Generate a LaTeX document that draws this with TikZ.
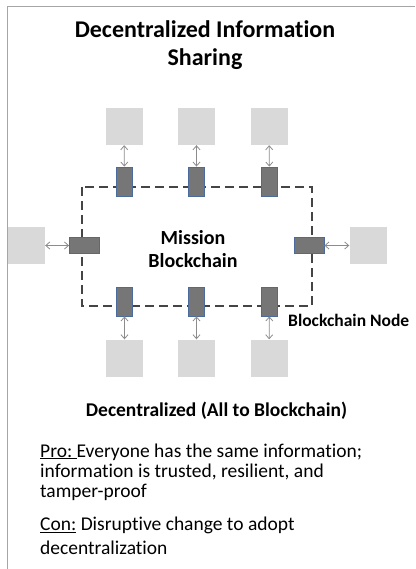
\documentclass[tikz,border=0pt]{standalone}
\usepackage{fontspec}
\setmainfont[Ligatures=NoCommon]{Carlito}
\usetikzlibrary{arrows.meta}

\definecolor{boxgray}{HTML}{D9D9D9}
\definecolor{nodegray}{HTML}{767676}
\definecolor{nodeedge}{HTML}{4A6B9C}
\definecolor{chainline}{HTML}{454545}
\definecolor{linkgray}{HTML}{8C8C8C}
\definecolor{framegray}{HTML}{A6A6A6}

\tikzset{
  member/.style={fill=boxgray, minimum width=37pt, minimum height=37pt, inner sep=0pt},
  bcnode/.style={fill=nodegray, draw=nodeedge, line width=.8pt, minimum width=16pt, minimum height=29pt, inner sep=0pt},
  bcnodeh/.style={bcnode, minimum width=30pt, minimum height=16pt},
  link/.style={<->, draw=linkgray, line width=.8pt},
  title/.style={font=\fontsize{24}{28}\selectfont\bfseries, anchor=base},
  label/.style={font=\fontsize{20}{23}\selectfont\bfseries, anchor=base},
  body/.style={font=\fontsize{19.5}{20}\selectfont, anchor=base west, inner sep=0pt},
}

\begin{document}
\begin{tikzpicture}[x=1pt, y=-1pt, >={Straight Barb[length=4pt,width=7pt]}]
\useasboundingbox (0,0) rectangle (415,569);

% members
\node[member] (mt1) at (124,126.5) {};
\node[member] (mt2) at (196.5,126.5) {};
\node[member] (mt3) at (269,126.5) {};
\node[member] (ml) at (26.5,245.5) {};
\node[member] (mr) at (368,245.5) {};
\node[member] (mb1) at (124.5,358) {};
\node[member] (mb2) at (196.5,358) {};
\node[member] (mb3) at (269,358) {};

% the chain
\draw[chainline, line width=1.5pt, dash pattern=on 9pt off 5pt] (82,187) rectangle (312,306);

% blockchain nodes
\node[bcnode] (bt1) at (124.5,181.5) {};
\node[bcnode] (bt2) at (196.5,181.5) {};
\node[bcnode] (bt3) at (269.5,181.5) {};
\node[bcnodeh] (bl) at (84.5,245.5) {};
\node[bcnodeh] (br) at (309,245.5) {};
\node[bcnode] (bb1) at (124.5,301.5) {};
\node[bcnode] (bb2) at (196.5,301.5) {};
\node[bcnode] (bb3) at (269.5,301.5) {};

\draw[link] (mt1) -- (bt1);
\draw[link] (mt2) -- (bt2);
\draw[link] (mt3) -- (bt3);
\draw[link] (ml) -- (bl);
\draw[link] (br) -- (mr);
\draw[link] (bb1) -- (mb1);
\draw[link] (bb2) -- (mb2);
\draw[link] (bb3) -- (mb3);

% frame
\draw[framegray, line width=1.5pt] (415,6.5) -- (7.5,6.5) -- (7.5,569);

% texts
\node[title] (head1) at (205,37.7) {Decentralized Information};
\node[title] (head2) at (205,66) {Sharing};
\node[label] (mission) at (193,244) {Mission};
\node[label] (chain) at (193,267) {Blockchain};
\node[label, font=\fontsize{17.5}{21}\selectfont\bfseries, anchor=base west, inner sep=0pt] (nodelbl) at (288,326.7) {Blockchain Node};
\node[label, font=\fontsize{19.5}{23}\selectfont\bfseries] (kind) at (216.5,416.7) {Decentralized (All to Blockchain)};

\node[body] (pro1) at (40,457) {\underline{Pro:\ }Everyone has the same information;};
\node[body] (pro2) at (40,477) {information is trusted, resilient, and};
\node[body] (pro3) at (40,497) {tamper-proof};
\node[body] (con1) at (40,530.7) {\underline{Con:} Disruptive change to adopt};
\node[body] (con2) at (40,554) {decentralization};

\end{tikzpicture}
\end{document}
